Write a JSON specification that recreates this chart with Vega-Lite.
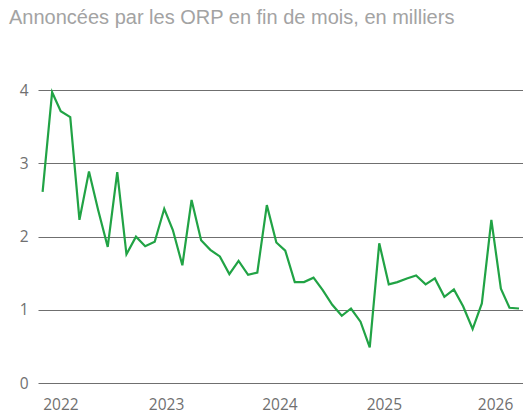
{
  "$schema": "https://vega.github.io/schema/vega-lite/v6.json",
  "width": 485,
  "height": 293.3,
  "autosize": "none",
  "padding": {"left": 38, "top": 90, "right": 0, "bottom": 28.7},
  "background": "white",
  "title": {
    "text": "Annoncées par les ORP en fin de mois, en milliers",
    "anchor": "start",
    "frame": "group",
    "font": "Liberation Sans",
    "fontSize": 20,
    "fontWeight": "normal",
    "color": "#a3a3a3",
    "offset": 55,
    "dx": -29
  },
  "config": {"view": {"stroke": null}},
  "data": {
    "values": [
      {"date": "2022-01-01", "value": 2.61},
      {"date": "2022-02-01", "value": 3.97},
      {"date": "2022-03-01", "value": 3.71},
      {"date": "2022-04-01", "value": 3.63},
      {"date": "2022-05-01", "value": 2.23},
      {"date": "2022-06-01", "value": 2.89},
      {"date": "2022-07-01", "value": 2.36},
      {"date": "2022-08-01", "value": 1.86},
      {"date": "2022-09-01", "value": 2.88},
      {"date": "2022-10-01", "value": 1.76},
      {"date": "2022-11-01", "value": 2.0},
      {"date": "2022-12-01", "value": 1.87},
      {"date": "2023-01-01", "value": 1.93},
      {"date": "2023-02-01", "value": 2.38},
      {"date": "2023-03-01", "value": 2.09},
      {"date": "2023-04-01", "value": 1.61},
      {"date": "2023-05-01", "value": 2.5},
      {"date": "2023-06-01", "value": 1.95},
      {"date": "2023-07-01", "value": 1.82},
      {"date": "2023-08-01", "value": 1.73},
      {"date": "2023-09-01", "value": 1.49},
      {"date": "2023-10-01", "value": 1.67},
      {"date": "2023-11-01", "value": 1.48},
      {"date": "2023-12-01", "value": 1.51},
      {"date": "2024-01-01", "value": 2.43},
      {"date": "2024-02-01", "value": 1.92},
      {"date": "2024-03-01", "value": 1.81},
      {"date": "2024-04-01", "value": 1.38},
      {"date": "2024-05-01", "value": 1.38},
      {"date": "2024-06-01", "value": 1.44},
      {"date": "2024-07-01", "value": 1.27},
      {"date": "2024-08-01", "value": 1.07},
      {"date": "2024-09-01", "value": 0.92},
      {"date": "2024-10-01", "value": 1.02},
      {"date": "2024-11-01", "value": 0.84},
      {"date": "2024-12-01", "value": 0.49},
      {"date": "2025-01-01", "value": 1.91},
      {"date": "2025-02-01", "value": 1.35},
      {"date": "2025-03-01", "value": 1.38},
      {"date": "2025-04-01", "value": 1.43},
      {"date": "2025-05-01", "value": 1.47},
      {"date": "2025-06-01", "value": 1.35},
      {"date": "2025-07-01", "value": 1.43},
      {"date": "2025-08-01", "value": 1.18},
      {"date": "2025-09-01", "value": 1.28},
      {"date": "2025-10-01", "value": 1.05},
      {"date": "2025-11-01", "value": 0.74},
      {"date": "2025-12-01", "value": 1.09},
      {"date": "2026-01-01", "value": 2.23},
      {"date": "2026-02-01", "value": 1.29},
      {"date": "2026-03-01", "value": 1.03},
      {"date": "2026-04-01", "value": 1.02}
    ]
  },
  "mark": {"type": "line", "color": "#21a345", "strokeWidth": 2.2, "strokeJoin": "miter", "clip": false},
  "encoding": {
    "x": {
      "field": "date",
      "type": "temporal",
      "scale": {"domain": ["2021-12-17", "2026-04-14"]},
      "axis": {
        "title": null,
        "grid": false,
        "domain": false,
        "ticks": false,
        "tickSize": 0,
        "format": "%Y",
        "values": [
          {"year": 2022, "month": 2, "date": 28},
          {"year": 2023, "month": 2, "date": 7},
          {"year": 2024, "month": 2, "date": 11},
          {"year": 2025, "month": 1, "date": 16},
          {"year": 2026, "month": 1, "date": 13}
        ],
        "labelFont": "Open Sans",
        "labelFontSize": 15.5,
        "labelColor": "#707070",
        "labelBaseline": "alphabetic",
        "labelPadding": 26,
        "labelFlush": false,
        "labelOverlap": false
      }
    },
    "y": {
      "field": "value",
      "type": "quantitative",
      "scale": {"domain": [0, 4], "nice": false, "zero": true},
      "axis": {
        "title": null,
        "values": [0, 1, 2, 3, 4],
        "domain": false,
        "ticks": false,
        "tickSize": 0,
        "grid": true,
        "gridColor": "#6f6f6f",
        "gridWidth": 1,
        "gridOpacity": 1,
        "labelFont": "Open Sans",
        "labelFontSize": 15.5,
        "labelColor": "#707070",
        "labelPadding": 10,
        "labelBaseline": "middle"
      }
    }
  }
}
